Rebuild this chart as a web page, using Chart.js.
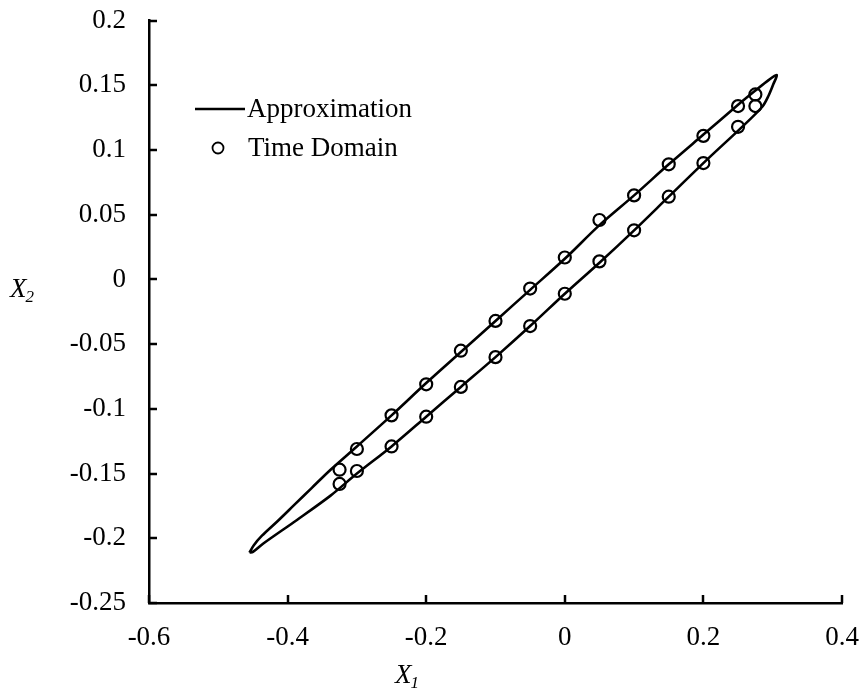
<!DOCTYPE html>
<html><head><meta charset="utf-8">
<script src="https://cdn.jsdelivr.net/npm/chart.js@4/dist/chart.umd.min.js"></script>
<style>html,body{margin:0;padding:0;background:#fff}#wrap{width:863px;height:690px}</style>
</head><body><div id="wrap"><canvas id="c" width="863" height="690"></canvas></div>
<script>
// ---- data ----
const xTickValues = [-0.6, -0.4, -0.2, 0, 0.2, 0.4];
const yTickValues = [-0.25, -0.2, -0.15, -0.1, -0.05, 0, 0.05, 0.1, 0.15, 0.2];

// closed "Approximation" loop: upper branch left->right, then lower branch right->left
const approxX = [-0.455,-0.449,-0.437,-0.415,-0.39,-0.365,-0.338,-0.30,-0.25,-0.20,-0.15,-0.10,-0.05,0,0.05,0.10,0.15,0.20,0.25,0.275,0.295,0.306,
                 0.301,0.294,0.285,0.254,0.206,0.15,0.10,0.05,0,-0.05,-0.10,-0.15,-0.20,-0.25,-0.30,-0.338,-0.387,-0.435,-0.450,-0.455];
const approxY = [-0.211,-0.2055,-0.198,-0.187,-0.174,-0.161,-0.147,-0.129,-0.105,-0.080,-0.056,-0.032,-0.008,0.016,0.042,0.065,0.089,0.112,0.135,0.146,0.1545,0.158,
                 0.151,0.142,0.1335,0.117,0.093,0.064,0.038,0.013,-0.011,-0.036,-0.060,-0.083,-0.106,-0.129,-0.150,-0.167,-0.186,-0.204,-0.2105,-0.211];

// "Time Domain" markers
const timeX = [0.275,0.25,0.2,0.15,0.1,0.05,0,-0.05,-0.1,-0.15,-0.2,-0.25,-0.3,-0.325,
               -0.325,-0.3,-0.25,-0.2,-0.15,-0.1,-0.05,0,0.05,0.1,0.15,0.2,0.25,0.275];
const timeY = [0.143,0.134,0.111,0.089,0.065,0.046,0.017,-0.007,-0.032,-0.055,-0.081,-0.105,-0.131,-0.147,
               -0.158,-0.148,-0.129,-0.106,-0.083,-0.060,-0.036,-0.011,0.014,0.038,0.064,0.090,0.118,0.134];

const seriesNames = ['Approximation', 'Time Domain'];
const axisTitles = [['X','1'], ['X','2']];

const FONT = 'Liberation Serif, Times New Roman, serif';
const FS = 27;
const fmt = v => String(Number(v.toFixed(2)));

const extras = {
  id: 'extras',
  afterDraw(chart) {
    const ctx = chart.ctx, a = chart.chartArea;
    const xs = chart.scales.x, ys = chart.scales.y;
    ctx.save();
    ctx.strokeStyle = '#000'; ctx.lineWidth = 2.5;
    // inward tick marks
    xTickValues.forEach(v => {
      const px = Math.round(xs.getPixelForValue(v));
      ctx.beginPath(); ctx.moveTo(px, a.bottom); ctx.lineTo(px, a.bottom - 8); ctx.stroke();
    });
    yTickValues.forEach(v => {
      const py = Math.round(ys.getPixelForValue(v));
      ctx.beginPath(); ctx.moveTo(a.left, py); ctx.lineTo(a.left + 8, py); ctx.stroke();
    });
    // legend
    ctx.fillStyle = '#000';
    ctx.font = FS + 'px ' + FONT;
    ctx.textBaseline = 'middle';
    ctx.textAlign = 'left';
    ctx.lineWidth = 2.5;
    ctx.beginPath(); ctx.moveTo(195, 109); ctx.lineTo(245, 109); ctx.stroke();
    ctx.fillText(seriesNames[0], 247, 110);
    ctx.lineWidth = 1.8;
    ctx.beginPath(); ctx.arc(218, 148, 5.5, 0, Math.PI * 2); ctx.stroke();
    ctx.fillText(seriesNames[1], 248, 149);
    // axis titles
    ctx.textBaseline = 'alphabetic';
    ctx.font = 'italic ' + FS + 'px ' + FONT;
    ctx.fillText(axisTitles[0][0], 395, 683);
    let w = ctx.measureText(axisTitles[0][0]).width;
    ctx.font = 'italic 17px ' + FONT;
    ctx.fillText(axisTitles[0][1], 395 + w - 1, 688);
    ctx.font = 'italic ' + FS + 'px ' + FONT;
    ctx.fillText(axisTitles[1][0], 10, 297);
    w = ctx.measureText(axisTitles[1][0]).width;
    ctx.font = 'italic 17px ' + FONT;
    ctx.fillText(axisTitles[1][1], 10 + w - 1, 302);
    ctx.restore();
  }
};

new Chart(document.getElementById('c'), {
  type: 'scatter',
  data: {
    datasets: [
      {
        label: seriesNames[0],
        data: approxX.map((x, i) => ({x, y: approxY[i]})),
        showLine: true, fill: false, tension: 0.3,
        borderColor: '#000', borderWidth: 2.6, pointRadius: 0
      },
      {
        label: seriesNames[1],
        data: timeX.map((x, i) => ({x, y: timeY[i]})),
        showLine: false, pointStyle: 'circle', pointRadius: 6,
        borderColor: '#000', borderWidth: 2.2, backgroundColor: 'rgba(0,0,0,0)'
      }
    ]
  },
  options: {
    responsive: false, animation: false,
    layout: { padding: { left: 0, right: 21, top: 20.7, bottom: 0 } },
    plugins: { legend: { display: false }, tooltip: { enabled: false } },
    scales: {
      x: {
        type: 'linear', min: -0.6, max: 0.4,
        afterBuildTicks: s => { s.ticks = xTickValues.map(v => ({value: v})); },
        afterFit: s => { s.height = 87; s.paddingLeft = 0; s.paddingRight = 0; },
        grid: { display: false, drawTicks: false },
        border: { display: true, color: '#000', width: 2.5 },
        ticks: { color: '#000', font: { family: FONT, size: FS }, padding: 19, maxRotation: 0, callback: v => fmt(v) }
      },
      y: {
        type: 'linear', min: -0.25, max: 0.2,
        afterBuildTicks: s => { s.ticks = yTickValues.map(v => ({value: v})); },
        afterFit: s => { s.width = 149; s.paddingTop = 0; s.paddingBottom = 0; },
        grid: { display: false, drawTicks: false },
        border: { display: true, color: '#000', width: 2.5 },
        ticks: { color: '#000', font: { family: FONT, size: FS }, padding: 23, callback: v => fmt(v) }
      }
    }
  },
  plugins: [extras]
});
</script></body></html>
